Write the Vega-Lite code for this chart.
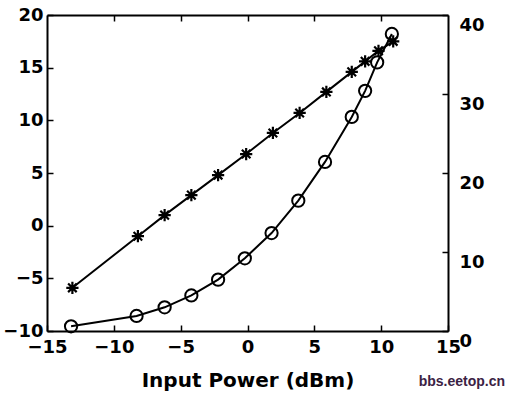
{
  "$schema": "https://vega.github.io/schema/vega-lite/v6.json",
  "width": 401,
  "height": 316,
  "autosize": {"type": "none"},
  "padding": {"left": 47, "top": 15, "right": 59, "bottom": 67},
  "background": "white",
  "config": {
    "view": {"stroke": null},
    "font": "DejaVu Sans",
    "axis": {
      "grid": false,
      "domainColor": "black",
      "domainWidth": 2,
      "tickColor": "black",
      "tickWidth": 1.5,
      "tickSize": -6,
      "labelFont": "DejaVu Sans",
      "labelFontSize": 18,
      "labelFontWeight": "bold",
      "labelColor": "black",
      "titleFont": "DejaVu Sans",
      "titleFontSize": 20,
      "titleFontWeight": "bold",
      "titleColor": "black"
    }
  },
  "title": {
    "text": "bbs.eetop.cn",
    "orient": "bottom",
    "anchor": "end",
    "frame": "group",
    "font": "Liberation Sans",
    "fontSize": 14,
    "fontWeight": "bold",
    "color": "#3b2244",
    "dx": 57,
    "offset": -15
  },
  "layer": [
    {
      "data": {"values": [
        {"power": -13.1, "gain": -5.9},
        {"power": -8.2, "gain": -1.0},
        {"power": -6.2, "gain": 1.0},
        {"power": -4.2, "gain": 2.9},
        {"power": -2.2, "gain": 4.8},
        {"power": -0.1, "gain": 6.8},
        {"power": 1.9, "gain": 8.8},
        {"power": 3.9, "gain": 10.7},
        {"power": 5.9, "gain": 12.7},
        {"power": 7.8, "gain": 14.6},
        {"power": 8.8, "gain": 15.6},
        {"power": 9.8, "gain": 16.6},
        {"power": 10.9, "gain": 17.5}
      ]},
      "encoding": {
        "x": {"field": "power", "type": "quantitative",
          "scale": {"domain": [-15, 15], "nice": false, "zero": false},
          "axis": {"orient": "bottom", "values": [-15, -10, -5, 0, 5, 10, 15], "labelFlush": false, "labelPadding": 13, "title": "Input Power (dBm)", "titlePadding": 14}},
        "y": {"field": "gain", "type": "quantitative",
          "scale": {"domain": [-10, 20], "nice": false, "zero": false},
          "axis": {"orient": "left", "values": [-10, -5, 0, 5, 10, 15, 20], "labelPadding": 10, "title": null}}
      },
      "layer": [
        {"mark": {"type": "line", "color": "black", "strokeWidth": 2}},
        {"mark": {"type": "point", "shape": "M-1,0L1,0M0,-1L0,1M-0.7,-0.7L0.7,0.7M-0.7,0.7L0.7,-0.7", "filled": false, "stroke": "black", "strokeWidth": 2.2, "size": 150, "opacity": 1}}
      ]
    },
    {
      "data": {"values": [
        {"power": -13.2, "out": 0.6},
        {"power": -8.3, "out": 1.9},
        {"power": -6.2, "out": 3.0},
        {"power": -4.2, "out": 4.5},
        {"power": -2.2, "out": 6.5},
        {"power": -0.2, "out": 9.2},
        {"power": 1.8, "out": 12.4},
        {"power": 3.8, "out": 16.5},
        {"power": 5.8, "out": 21.4},
        {"power": 7.8, "out": 27.1},
        {"power": 8.8, "out": 30.4},
        {"power": 9.7, "out": 34.0},
        {"power": 10.8, "out": 37.6}
      ]},
      "encoding": {
        "x": {"field": "power", "type": "quantitative",
          "scale": {"domain": [-15, 15], "nice": false, "zero": false},
          "axis": {"orient": "top", "values": [-10, -5, 0, 5, 10], "labels": false, "title": null}},
        "y": {"field": "out", "type": "quantitative",
          "scale": {"domain": [0, 40], "nice": false, "zero": false},
          "axis": {"orient": "right", "values": [0, 10, 20, 30, 40], "labelPadding": 17, "labelOffset": 10, "title": null}}
      },
      "layer": [
        {"mark": {"type": "line", "color": "black", "strokeWidth": 2}},
        {"mark": {"type": "point", "shape": "circle", "filled": false, "stroke": "black", "strokeWidth": 2, "size": 150, "opacity": 1}}
      ]
    }
  ],
  "resolve": {"scale": {"y": "independent"}, "axis": {"x": "independent", "y": "independent"}}
}
